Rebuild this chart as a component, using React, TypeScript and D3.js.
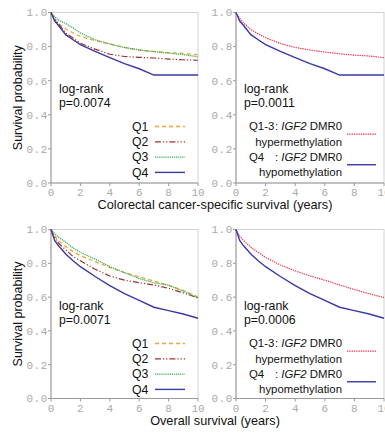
import React from 'react';
import * as d3 from 'd3';

const timePoints = [0, 0.25, 0.5, 1, 1.5, 2, 3, 4, 5, 6, 7, 8, 9, 10];

// Colorectal cancer-specific survival
const crcQ1 = [1, 0.96, 0.935, 0.905, 0.88, 0.86, 0.835, 0.815, 0.795, 0.78, 0.772, 0.765, 0.76, 0.752];
const crcQ2 = [1, 0.96, 0.935, 0.88, 0.85, 0.82, 0.785, 0.755, 0.742, 0.737, 0.733, 0.727, 0.723, 0.72];
const crcQ3 = [1, 0.975, 0.955, 0.935, 0.91, 0.88, 0.84, 0.815, 0.795, 0.78, 0.77, 0.762, 0.753, 0.74];
const crcQ4 = [1, 0.95, 0.925, 0.87, 0.84, 0.812, 0.772, 0.735, 0.7, 0.67, 0.633, 0.633, 0.633, 0.633];
const crcQ13 = [1, 0.965, 0.94, 0.9, 0.875, 0.852, 0.818, 0.795, 0.78, 0.768, 0.758, 0.75, 0.745, 0.735];

// Overall survival
const osQ1 = [1, 0.96, 0.935, 0.9, 0.87, 0.845, 0.81, 0.775, 0.745, 0.72, 0.695, 0.67, 0.64, 0.6];
const osQ2 = [1, 0.955, 0.92, 0.88, 0.84, 0.815, 0.765, 0.725, 0.7, 0.685, 0.672, 0.652, 0.625, 0.595];
const osQ3 = [1, 0.975, 0.955, 0.925, 0.89, 0.865, 0.825, 0.78, 0.745, 0.71, 0.685, 0.67, 0.635, 0.595];
const osQ4 = [1, 0.935, 0.905, 0.855, 0.815, 0.78, 0.722, 0.668, 0.62, 0.58, 0.54, 0.52, 0.5, 0.475];
const osQ13 = [1, 0.96, 0.935, 0.895, 0.865, 0.835, 0.79, 0.755, 0.725, 0.7, 0.672, 0.645, 0.62, 0.597];

const xTicks = [0, 2, 4, 6, 8, 10];
const yTicks = [0, 0.2, 0.4, 0.6, 0.8, 1.0];

const quartileLabels = ['Q1', 'Q2', 'Q3', 'Q4'];
const pValues = ['p=0.0074', 'p=0.0011', 'p=0.0071', 'p=0.0006'];
const xTitles = ['Colorectal cancer-specific survival (years)', 'Overall survival (years)'];
const yTitle = 'Survival probability';

const STYLES: Record<string, { color: string; dash?: string; width: number }> = {
  Q1: { color: '#f7a238', dash: '4,3', width: 1.3 },
  Q2: { color: '#a3302a', dash: '6,2,1.2,2,1.2,2', width: 1.2 },
  Q3: { color: '#32ae55', dash: '1.2,0.9', width: 1.3 },
  Q4: { color: '#3838a8', width: 1.4 },
  Q13: { color: '#ec3a50', dash: '1.4,0.9', width: 1.2 },
};

const SANS = 'Liberation Sans, Arial, sans-serif';
const MONO = 'Liberation Mono, monospace';

type Curve = { key: string; values: number[] };

function Panel({ x0, x1, yTop, yBot, curves, pval, kind }: {
  x0: number; x1: number; yTop: number; yBot: number; curves: Curve[]; pval: string; kind: 'quart' | 'binary';
}) {
  const x = d3.scaleLinear().domain([0, 10]).range([x0, x1]);
  const y = d3.scaleLinear().domain([0, 1]).range([yBot, yTop]);
  const line = d3.line<[number, number]>().x(d => x(d[0])).y(d => y(d[1])).curve(d3.curveLinear);
  const rowY = (i: number) => yTop + 114 + i * 15.3;
  return (
    <g>
      {/* frame */}
      <rect x={x0} y={yTop} width={x1 - x0} height={yBot - yTop} fill="none" stroke="#d2d2d2" strokeWidth={1} />
      <line x1={x0} x2={x0} y1={yTop} y2={yBot} stroke="#9a9a9a" />
      <line x1={x0} x2={x1} y1={yBot} y2={yBot} stroke="#9a9a9a" />
      {yTicks.map(t => (
        <g key={'y' + t}>
          <line x1={x0 - 3} x2={x0} y1={y(t)} y2={y(t)} stroke="#9a9a9a" />
          <text x={x0 - 3} y={y(t)} dy="0.35em" textAnchor="end" fontFamily={MONO} fontSize={11} letterSpacing={0.6} fill="#aaaaaa">{t.toFixed(1)}</text>
        </g>
      ))}
      {xTicks.map(t => (
        <g key={'x' + t}>
          <line x1={x(t)} x2={x(t)} y1={yBot} y2={yBot + 3} stroke="#9a9a9a" />
          <text x={x(t)} y={yBot + 9.5} dy="0.35em" textAnchor="middle" fontFamily={MONO} fontSize={11} fill="#aaaaaa">{t}</text>
        </g>
      ))}
      {curves.map(c => {
        const s = STYLES[c.key];
        const pts = timePoints.map((t, i) => [t, c.values[i]] as [number, number]);
        return <path key={c.key} d={line(pts) || ''} fill="none" stroke={s.color} strokeWidth={s.width} strokeDasharray={s.dash} />;
      })}
      <text x={x0 + 8} y={yTop + 76} dy="0.35em" fontFamily={SANS} fontSize={12.3} fill="#111">log-rank</text>
      <text x={x0 + 8} y={yTop + 90} dy="0.35em" fontFamily={SANS} fontSize={12.3} fill="#111">{pval}</text>
      {kind === 'quart' && quartileLabels.map((q, i) => {
        const s = STYLES[q];
        return (
          <g key={q}>
            <text x={x0 + 81} y={rowY(i)} dy="0.35em" fontFamily={SANS} fontSize={12.3} fill="#111">{q}</text>
            <line x1={x0 + 104} x2={x0 + 134} y1={rowY(i)} y2={rowY(i)} stroke={s.color} strokeWidth={s.width} strokeDasharray={s.dash} />
          </g>
        );
      })}
      {kind === 'binary' && (
        <g fontFamily={SANS} fontSize={11.4} fill="#111">
          <text x={x0 + 13} y={rowY(0)} dy="0.35em">Q1-3</text>
          <text x={x0 + 106} y={rowY(0)} dy="0.35em" textAnchor="end">: <tspan fontStyle="italic">IGF2</tspan> DMR0</text>
          <text x={x0 + 106} y={rowY(1)} dy="0.35em" textAnchor="end">hypermethylation</text>
          <text x={x0 + 13} y={rowY(2)} dy="0.35em">Q4</text>
          <text x={x0 + 106} y={rowY(2)} dy="0.35em" textAnchor="end">: <tspan fontStyle="italic">IGF2</tspan> DMR0</text>
          <text x={x0 + 106} y={rowY(3)} dy="0.35em" textAnchor="end">hypomethylation</text>
          <line x1={x0 + 111} x2={x0 + 140} y1={(rowY(0) + rowY(1)) / 2} y2={(rowY(0) + rowY(1)) / 2} stroke={STYLES.Q13.color} strokeWidth={STYLES.Q13.width} strokeDasharray={STYLES.Q13.dash} />
          <line x1={x0 + 111} x2={x0 + 140} y1={(rowY(2) + rowY(3)) / 2} y2={(rowY(2) + rowY(3)) / 2} stroke={STYLES.Q4.color} strokeWidth={STYLES.Q4.width} />
        </g>
      )}
    </g>
  );
}

export default function App() {
  const rows = [
    { yTop: 12.5, yBot: 183, title: xTitles[0], left: [
      { key: 'Q1', values: crcQ1 }, { key: 'Q2', values: crcQ2 }, { key: 'Q3', values: crcQ3 }, { key: 'Q4', values: crcQ4 },
    ], right: [{ key: 'Q13', values: crcQ13 }, { key: 'Q4', values: crcQ4 }], p: [pValues[0], pValues[1]] },
    { yTop: 229.5, yBot: 398.5, title: xTitles[1], left: [
      { key: 'Q1', values: osQ1 }, { key: 'Q2', values: osQ2 }, { key: 'Q3', values: osQ3 }, { key: 'Q4', values: osQ4 },
    ], right: [{ key: 'Q13', values: osQ13 }, { key: 'Q4', values: osQ4 }], p: [pValues[2], pValues[3]] },
  ];
  return (
    <svg width={385} height={435} style={{ position: 'absolute', left: 0, top: 0, background: '#fff' }}>
      <rect width={385} height={435} fill="#fff" />
      {rows.map((r, i) => (
        <g key={i}>
          <Panel x0={51} x1={198} yTop={r.yTop} yBot={r.yBot} curves={r.left} pval={r.p[0]} kind="quart" />
          <Panel x0={236} x1={384} yTop={r.yTop} yBot={r.yBot} curves={r.right} pval={r.p[1]} kind="binary" />
          <text x={215} y={r.yBot + 22} dy="0.35em" textAnchor="middle" fontFamily={SANS} fontSize={12.7} fill="#111">{r.title}</text>
          <text transform={`translate(18,${(r.yTop + r.yBot) / 2}) rotate(-90)`} dy="0.35em" textAnchor="middle" fontFamily={SANS} fontSize={12.5} fill="#111">{yTitle}</text>
        </g>
      ))}
    </svg>
  );
}
